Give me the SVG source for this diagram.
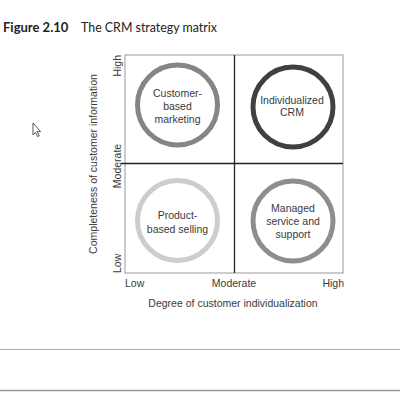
<svg xmlns="http://www.w3.org/2000/svg" width="400" height="400" viewBox="0 0 400 400">
<style>
text{font-family:"Liberation Sans",Arial,sans-serif;fill:#3a3a3a;font-size:10.5px}
.c{text-anchor:middle}
.ring{fill:none;stroke-width:5}
.frame{fill:none;stroke:#999;stroke-width:1}
.axis{stroke:#222;stroke-width:1.3}
</style>
<rect width="400" height="400" fill="#fff"/>
<text x="3" y="32" style="font-family:Lato,'Open Sans',sans-serif;font-size:13px;font-weight:bold;fill:#222">Figure 2.10</text>
<text x="81" y="32" style="font-family:Lato,'Open Sans',sans-serif;font-size:12.4px;fill:#222">The CRM strategy matrix</text>
<polygon points="33,123 33,135 35.5,132.3 37.6,136.6 39.3,135.8 37.2,131.6 40.6,131.6" fill="#fff" stroke="#555" stroke-width="1" stroke-linejoin="round"/>
<g id="grid">
<rect class="frame" x="125" y="55" width="218" height="218"/>
<line class="axis" x1="234.5" y1="55" x2="234.5" y2="273"/>
<line class="axis" x1="121" y1="163.5" x2="343" y2="163.5"/>
</g>
<g id="n1">
<circle class="ring" cx="177.5" cy="105" r="40" stroke="#858585"/>
<text class="c" x="177.5" y="97">Customer-</text>
<text class="c" x="177.5" y="110">based</text>
<text class="c" x="177.5" y="123">marketing</text>
</g>
<g id="n2">
<circle class="ring" cx="293" cy="107" r="40" stroke="#404040"/>
<text class="c" x="292" y="104">Individualized</text>
<text class="c" x="292" y="116">CRM</text>
</g>
<g id="n3">
<circle class="ring" cx="177.5" cy="220.5" r="40" stroke="#cdcdcd"/>
<text class="c" x="177.5" y="219">Product-</text>
<text class="c" x="177.5" y="233">based selling</text>
</g>
<g id="n4">
<circle class="ring" cx="293" cy="221" r="40" stroke="#8e8e8e"/>
<text class="c" x="293" y="212">Managed</text>
<text class="c" x="293" y="225">service and</text>
<text class="c" x="293" y="238">support</text>
</g>
<g id="xaxis">
<text x="125" y="287">Low</text>
<text class="c" x="234" y="287">Moderate</text>
<text x="344" y="287" text-anchor="end">High</text>
<text class="c" x="233" y="307">Degree of customer individualization</text>
</g>
<g id="yaxis">
<text transform="translate(121,55) rotate(-90)" text-anchor="end">High</text>
<text class="c" transform="translate(121,166) rotate(-90)">Moderate</text>
<text transform="translate(121,273) rotate(-90)">Low</text>
<text class="c" transform="translate(97,164) rotate(-90)">Completeness of customer information</text>
</g>
<line x1="0" y1="349.5" x2="400" y2="349.5" stroke="#aaa" stroke-width="1"/>
<line x1="0" y1="390.5" x2="400" y2="390.5" stroke="#999" stroke-width="1.3"/>
</svg>
